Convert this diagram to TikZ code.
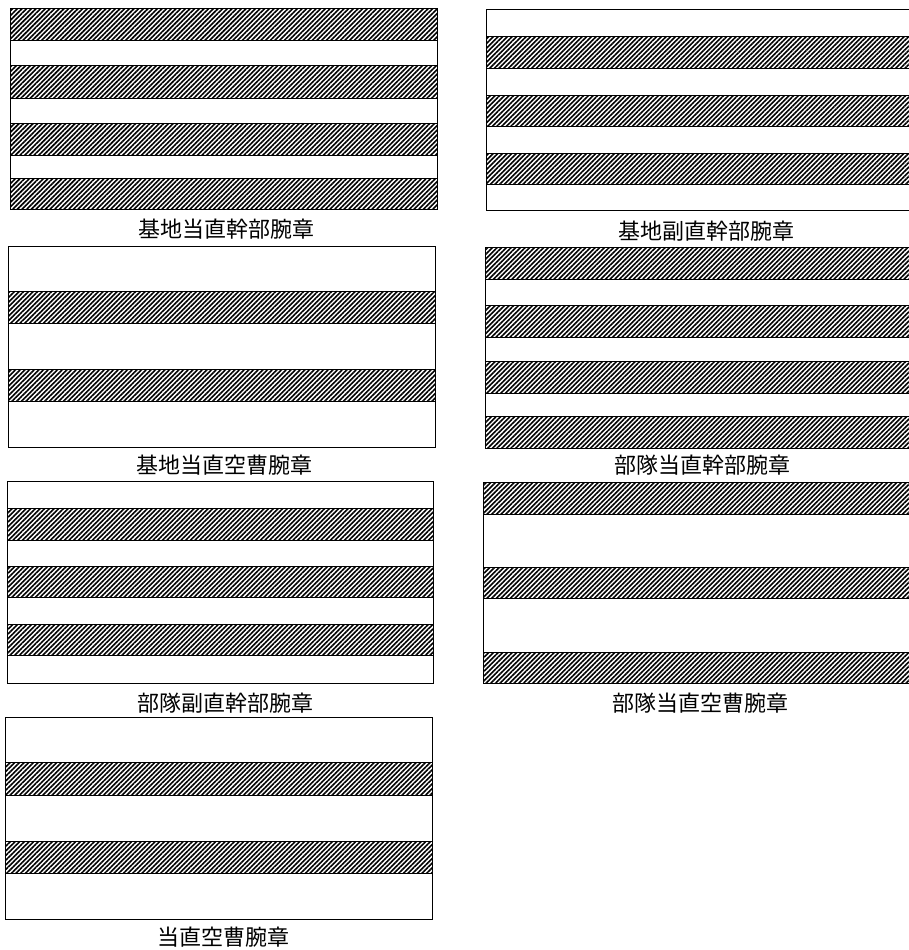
\documentclass[tikz,border=0pt]{standalone}
\usepackage{fontspec}
\newfontfamily\jpfont{Noto Sans CJK JP}
\usetikzlibrary{patterns.meta}

\begin{document}
\begin{tikzpicture}
  [x=1pt,y=-1pt]
      \tikzstyle{band} = [draw=black, line width=1pt]
      \tikzstyle{hatch_band} = [band, pattern={Lines[angle=45,distance=3.3pt,line width=1.6pt]}]
      \tikzstyle{caption} = [font=\jpfont\fontsize{22}{24}\selectfont, inner sep=0pt]
  \useasboundingbox (0,0) rectangle (909,950);
  \clip (0,0) rectangle (909,950);

  \foreach \a/\b in {9/41, 66/98, 123/155, 178/209}
    \draw[hatch_band] (10,\a) rectangle (437,\b);
  \draw[band] (10,9) rectangle (437,209);
  \node[caption] (kichi_toku) at (226,229) {基地当直幹部腕章};

  \foreach \a/\b in {37/69, 95/126, 153/184}
    \draw[hatch_band] (486,\a) rectangle (920,\b);
  \draw[band] (486,10) rectangle (920,210);
  \node[caption] (kichi_fuku) at (706,231) {基地副直幹部腕章};

  \foreach \a/\b in {291/323, 369/401}
    \draw[hatch_band] (8,\a) rectangle (435,\b);
  \draw[band] (8,246) rectangle (435,447);
  \node[caption] (kichi_sou) at (224,465) {基地当直空曹腕章};

  \foreach \a/\b in {247/279, 305/337, 361/393, 416/448}
    \draw[hatch_band] (485,\a) rectangle (920,\b);
  \draw[band] (485,247) rectangle (920,448);
  \node[caption] (butai_toku) at (702,465) {部隊当直幹部腕章};

  \foreach \a/\b in {508/540, 566/597, 624/655}
    \draw[hatch_band] (7,\a) rectangle (433,\b);
  \draw[band] (7,481) rectangle (433,683);
  \node[caption] (butai_fuku) at (225,703) {部隊副直幹部腕章};

  \foreach \a/\b in {482/514, 567/598, 652/683}
    \draw[hatch_band] (483,\a) rectangle (920,\b);
  \draw[band] (483,482) rectangle (920,683);
  \node[caption] (butai_sou) at (700,703) {部隊当直空曹腕章};

  \foreach \a/\b in {762/795, 841/873}
    \draw[hatch_band] (5,\a) rectangle (432,\b);
  \draw[band] (5,717) rectangle (432,919);
  \node[caption] (toku_sou) at (223,937) {当直空曹腕章};
\end{tikzpicture}
\end{document}
